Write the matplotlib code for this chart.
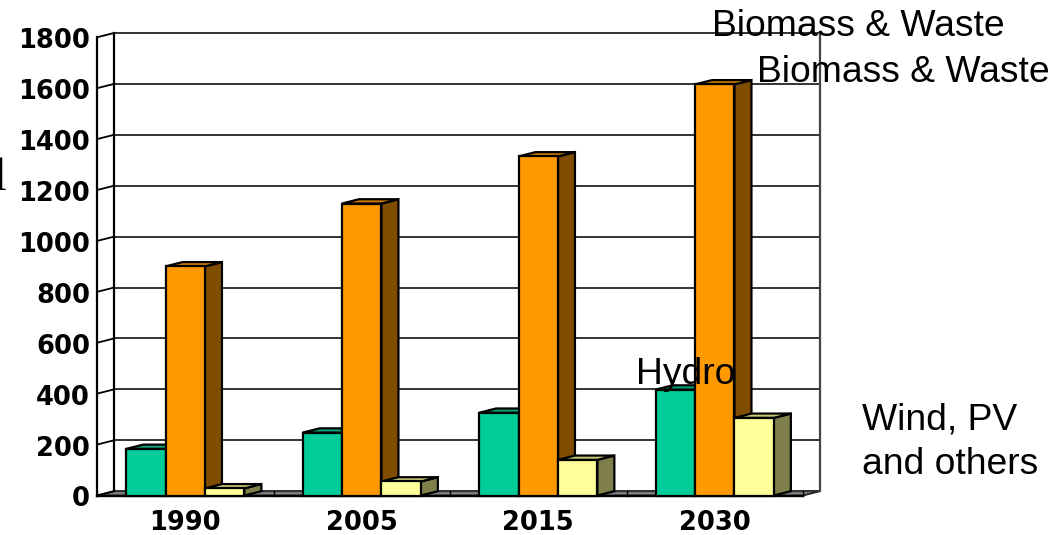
import matplotlib
matplotlib.use("Agg")
import matplotlib.pyplot as plt
from matplotlib.patches import Polygon

categories = ["1990", "2005", "2015", "2030"]
hydro = [183, 247, 325, 416]
biomass = [900, 1147, 1332, 1615]
wind = [28, 55, 140, 305]
yticks = [0, 200, 400, 600, 800, 1000, 1200, 1400, 1600, 1800]
series = [hydro, biomass, wind]
front = ["#00CC99", "#FF9900", "#FFFF99"]
top = ["#00A37A", "#CC7A00", "#CCCC7A"]
side = ["#007F5F", "#7F4C00", "#7F7F4C"]

W, H = 1060, 535
fig = plt.figure(figsize=(W / 100, H / 100), dpi=100)
L, R, T, B = 97, 803, 37.3, 495.5
ax = fig.add_axes([L / W, 1 - B / H, (R - L) / W, (B - T) / H])
ax.set_xlim(0, 4)
ax.set_ylim(0, 1800)
ax.axis("off")

dx = 17 / ((R - L) / 4)
dy = 4.3 * 1800 / (B - T)
barw = 39.4 / ((R - L) / 4)

def poly(pts, fc, ec="black", lw=1.6, z=2):
    ax.add_patch(Polygon(pts, closed=True, facecolor=fc, edgecolor=ec, linewidth=lw,
                         zorder=z, clip_on=False, joinstyle="miter"))

# floor
poly([(0, 0), (dx, dy), (4 + dx, dy), (4, 0)], "#808080", ec="#222222", lw=1.3, z=1)
# grid, left wall, right wall
for v in yticks:
    ax.plot([dx, 4 + dx], [v + dy, v + dy], color="#333333", lw=1.4, zorder=1, clip_on=False)
    ax.plot([0, dx], [v, v + dy], color="black", lw=1.3, zorder=1, clip_on=False)
ax.plot([dx, dx], [dy, 1800 + dy], color="black", lw=1.6, zorder=1, clip_on=False)
ax.plot([0, 0], [0, 1800], color="black", lw=1.6, zorder=1, clip_on=False)
ax.plot([4 + dx, 4 + dx], [dy, 1800 + dy], color="#444444", lw=1.6, zorder=1, clip_on=False)
for i in range(5):
    ax.plot([i, i], [0, dy], color="black", lw=1, zorder=1, clip_on=False)
ax.plot([0, 4], [0, 0], color="black", lw=1.7, zorder=1.5, clip_on=False)

# bars, back to front within each group
z = 2
for c in range(4):
    for s, vals in enumerate(series):
        x0 = c + 0.5 + (s - 1.5) * barw
        x1 = x0 + barw
        v = vals[c]
        ax.bar(x0, v, width=barw, align="edge", color=front[s], edgecolor="black",
               linewidth=1.6, zorder=z + 0.2, clip_on=False)
        poly([(x1, 0), (x1 + dx, dy), (x1 + dx, v + dy), (x1, v)], side[s], z=z)
        poly([(x0, v), (x0 + dx, v + dy), (x1 + dx, v + dy), (x1, v)], top[s], z=z + 0.1)
        z += 1

tick_font = dict(family="DejaVu Sans", fontweight="bold", fontsize=18.5,
                 color="black", zorder=50)
for v in yticks:
    ax.annotate(f"{v}", xy=(0, v), xycoords="data", xytext=(-7, -1), textcoords="offset pixels",
                ha="right", va="center_baseline", **tick_font)
for i, c in enumerate(categories):
    ax.annotate(c, xy=(i + 0.5, 0), xycoords="data", xytext=(0, -24), textcoords="offset pixels",
                ha="center", va="center_baseline", **tick_font)

notes = [("Biomass & Waste", 712, 26), ("Biomass & Waste", 757, 72), ("Hydro", 636, 375),
         ("Wind, PV", 862, 420), ("and others", 862, 464)]
for s, px, py in notes:
    fig.text(px / W, 1 - py / H, s, family="Liberation Sans", fontsize=26.8, ha="left",
             va="center", color="black", zorder=60)
fig.text(-7 / W, 1 - 179 / H, "l", family="Liberation Serif", fontsize=33, ha="left", va="center")
fig.savefig("out.png", dpi=100)
